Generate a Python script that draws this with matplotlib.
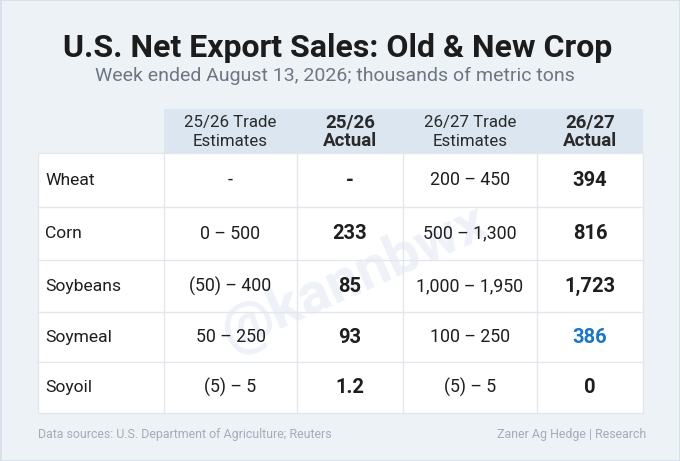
import matplotlib.pyplot as plt
from matplotlib.patches import Rectangle

plt.rcParams['font.family'] = ['Roboto', 'DejaVu Sans']

# table content
crops = ["Wheat", "Corn", "Soybeans", "Soymeal", "Soyoil"]
est_old = ["-", "0 – 500", "(50) – 400", "50 – 250", "(5) – 5"]
act_old = ["-", "233", "85", "93", "1.2"]
est_new = ["200 – 450", "500 – 1,300", "1,000 – 1,950", "100 – 250", "(5) – 5"]
act_new = ["394", "816", "1,723", "386", "0"]
headers = ["25/26 Trade\nEstimates", "25/26\nActual", "26/27 Trade\nEstimates", "26/27\nActual"]
header_bold = [False, True, False, True]
highlight = {("Soymeal", 4): "#1b76c4"}

title = "U.S. Net Export Sales: Old & New Crop"
subtitle = "Week ended August 13, 2026; thousands of metric tons"
source = "Data sources: U.S. Department of Agriculture; Reuters"
credit = "Zaner Ag Hedge | Research"

W, H = 680, 461
fig = plt.figure(figsize=(W / 100, H / 100), dpi=100)
fig.patch.set_facecolor("#edf2f7")
ax = fig.add_axes([0, 0, 1, 1])
ax.set_xlim(0, W)
ax.set_ylim(H, 0)
ax.axis("off")

# outer frame
ax.add_patch(Rectangle((0.5, 0.5), W - 1, H - 1, fill=False, ec="#d3dde9", lw=1.2))

ax.text(338, 48, title, ha="center", va="center", fontsize=23,
        fontweight="bold", color="#1c1c1c")
ax.text(335, 76, subtitle, ha="center", va="center", fontsize=14,
        color="#6e7684")

col_edges = [38, 164, 297, 403, 537, 643]
head_top, head_bot = 109, 153
row_edges = [153, 207, 260, 312, 362, 413]
grid = "#e3e7ec"

# header band
ax.add_patch(Rectangle((col_edges[1], head_top), col_edges[-1] - col_edges[1],
                       head_bot - head_top, fc="#dce6f0", ec="none"))
# body
ax.add_patch(Rectangle((col_edges[0], row_edges[0]), col_edges[-1] - col_edges[0],
                       row_edges[-1] - row_edges[0], fc="white", ec=grid, lw=1))

# watermark (under the grid lines)
ax.text(355, 278, "@kannbwx", ha="center", va="center", fontsize=42,
        fontweight="bold", color="#eef2f8", rotation=24, zorder=1.5)

for y in row_edges[1:-1]:
    ax.plot([col_edges[0], col_edges[-1]], [y, y], color=grid, lw=1, zorder=2)
for x in col_edges[1:-1]:
    ax.plot([x, x], [head_bot, row_edges[-1]], color=grid, lw=1, zorder=2)

centers = [(col_edges[i] + col_edges[i + 1]) / 2 for i in range(5)]
for j, (h, b) in enumerate(zip(headers, header_bold)):
    top, bottom = h.split("\n")
    for yy, s in ((122, top), (141, bottom)):
        ax.text(centers[j + 1], yy, s, ha="center", va="center",
                fontsize=13.5 if b else 12.2, fontweight="bold" if b else "normal",
                color="#2a2a2a")

for i, crop in enumerate(crops):
    yc = (row_edges[i] + row_edges[i + 1]) / 2
    ax.text(45, yc, crop, ha="left", va="center", fontsize=12.6, color="#1e1e1e", zorder=3)
    vals = [est_old[i], act_old[i], est_new[i], act_new[i]]
    for j, v in enumerate(vals):
        bold = j in (1, 3)
        col = highlight.get((crop, j + 1), "#1e1e1e")
        ax.text(centers[j + 1], yc, v, ha="center", va="center",
                fontsize=14.5 if bold else 12.8,
                fontweight="bold" if bold else "normal", color=col, zorder=3)

ax.text(38, 434, source, ha="left", va="center", fontsize=8.9, color="#a3acb9")
ax.text(646, 434, credit, ha="right", va="center", fontsize=8.9, color="#a3acb9")

fig.savefig("out.png", dpi=100, facecolor=fig.get_facecolor())
